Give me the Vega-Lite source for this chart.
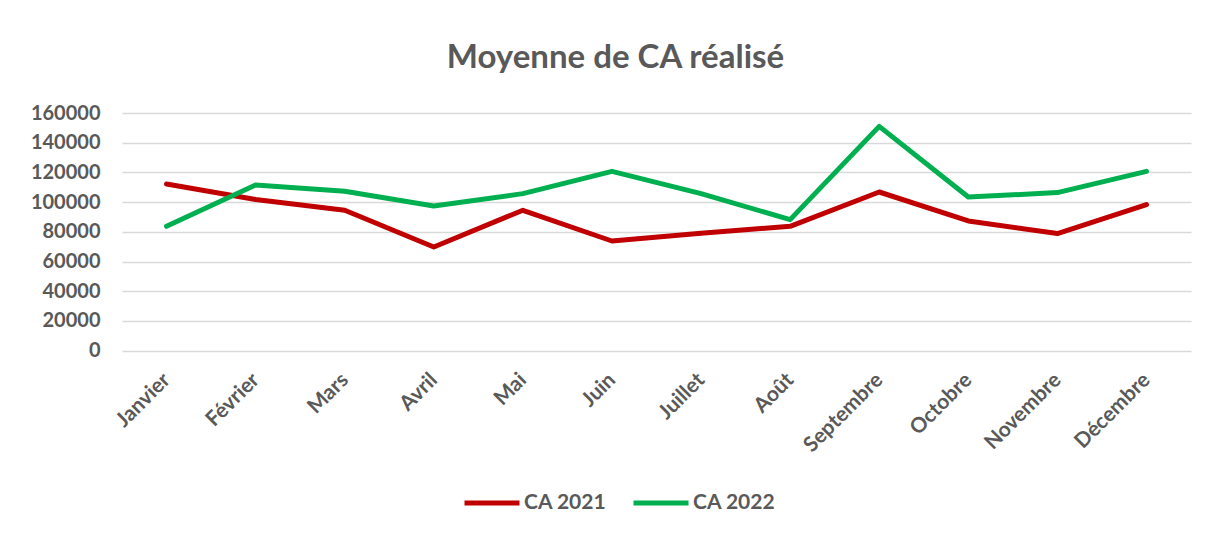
{
  "$schema": "https://vega.github.io/schema/vega-lite/v6.json",
  "autosize": {"type": "none"},
  "width": 1069,
  "height": 237.6,
  "padding": {"left": 122, "top": 113, "right": 18, "bottom": 186.4},
  "background": "white",
  "title": {
    "text": "Moyenne de CA réalisé",
    "fontSize": 33,
    "font": "Lato",
    "fontWeight": "bold",
    "color": "#595959",
    "anchor": "middle",
    "dx": -41,
    "offset": 28
  },
  "data": {
    "values": [
      {"mois": "Janvier", "serie": "CA 2021", "valeur": 112200},
      {"mois": "Février", "serie": "CA 2021", "valeur": 101700},
      {"mois": "Mars", "serie": "CA 2021", "valeur": 94500},
      {"mois": "Avril", "serie": "CA 2021", "valeur": 69800},
      {"mois": "Mai", "serie": "CA 2021", "valeur": 94500},
      {"mois": "Juin", "serie": "CA 2021", "valeur": 73800},
      {"mois": "Juillet", "serie": "CA 2021", "valeur": 79000},
      {"mois": "Août", "serie": "CA 2021", "valeur": 83700},
      {"mois": "Septembre", "serie": "CA 2021", "valeur": 106800},
      {"mois": "Octobre", "serie": "CA 2021", "valeur": 87300},
      {"mois": "Novembre", "serie": "CA 2021", "valeur": 78800},
      {"mois": "Décembre", "serie": "CA 2021", "valeur": 98300},
      {"mois": "Janvier", "serie": "CA 2022", "valeur": 83700},
      {"mois": "Février", "serie": "CA 2022", "valeur": 111500},
      {"mois": "Mars", "serie": "CA 2022", "valeur": 107300},
      {"mois": "Avril", "serie": "CA 2022", "valeur": 97400},
      {"mois": "Mai", "serie": "CA 2022", "valeur": 105700},
      {"mois": "Juin", "serie": "CA 2022", "valeur": 120700},
      {"mois": "Juillet", "serie": "CA 2022", "valeur": 105700},
      {"mois": "Août", "serie": "CA 2022", "valeur": 88200},
      {"mois": "Septembre", "serie": "CA 2022", "valeur": 151000},
      {"mois": "Octobre", "serie": "CA 2022", "valeur": 103400},
      {"mois": "Novembre", "serie": "CA 2022", "valeur": 106400},
      {"mois": "Décembre", "serie": "CA 2022", "valeur": 120700}
    ]
  },
  "mark": {"type": "line", "strokeWidth": 5, "strokeCap": "round", "strokeJoin": "round"},
  "encoding": {
    "x": {
      "field": "mois",
      "type": "ordinal",
      "sort": null,
      "scale": {"type": "point", "padding": 0.5},
      "axis": {
        "title": null,
        "labelAngle": -45,
        "labelAlign": "right",
        "labelBaseline": "middle",
        "labelFont": "Lato",
        "labelFontSize": 21,
        "labelFontWeight": "bold",
        "labelColor": "#595959",
        "labelPadding": 26,
        "ticks": false,
        "domain": false,
        "grid": false
      }
    },
    "y": {
      "field": "valeur",
      "type": "quantitative",
      "scale": {"domain": [0, 160000], "nice": false},
      "axis": {
        "title": null,
        "values": [0, 20000, 40000, 60000, 80000, 100000, 120000, 140000, 160000],
        "format": "d",
        "labelFont": "Lato",
        "labelFontSize": 20,
        "labelFontWeight": "bold",
        "labelColor": "#595959",
        "labelPadding": 22,
        "ticks": false,
        "domain": false,
        "grid": true,
        "gridColor": "#d9d9d9",
        "gridWidth": 1.5
      }
    },
    "color": {
      "field": "serie",
      "type": "nominal",
      "scale": {"domain": ["CA 2021", "CA 2022"], "range": ["#C00000", "#00B050"]},
      "legend": {
        "title": null,
        "orient": "none",
        "legendX": 340,
        "legendY": 360,
        "direction": "horizontal",
        "symbolType": "stroke",
        "symbolSize": 3025,
        "symbolStrokeWidth": 5,
        "labelFont": "Lato",
        "labelFontSize": 21,
        "labelFontWeight": "bold",
        "labelColor": "#595959",
        "labelOffset": 2,
        "columnPadding": 16
      }
    }
  },
  "config": {"view": {"stroke": null}}
}
